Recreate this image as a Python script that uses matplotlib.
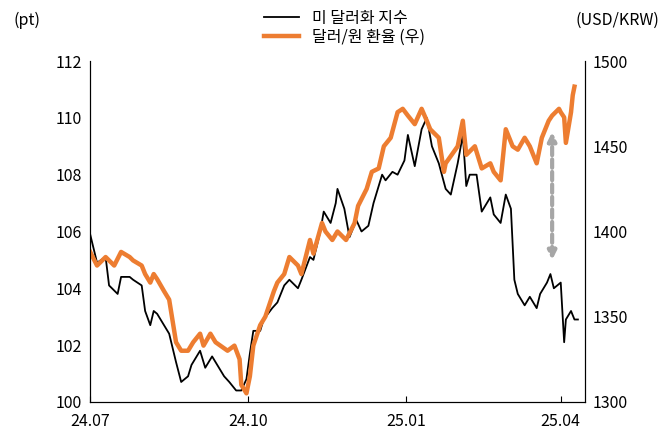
import matplotlib
matplotlib.use("Agg")
import matplotlib.pyplot as plt
import matplotlib.font_manager as fm
import pandas as pd

names = {f.name for f in fm.fontManager.ttflist}
fams = [n for n in ["Noto Sans CJK KR", "Noto Sans CJK JP", "Noto Sans CJK SC", "Noto Sans CJK TC"] if n in names]
plt.rcParams["font.family"] = fams + ["DejaVu Sans"]

dxy_dates = ["2024-07-01","2024-07-03","2024-07-05","2024-07-10","2024-07-12","2024-07-17","2024-07-19","2024-07-24","2024-07-26","2024-07-31",
 "2024-08-02","2024-08-05","2024-08-07","2024-08-09","2024-08-14","2024-08-16","2024-08-20","2024-08-23","2024-08-27","2024-08-29",
 "2024-09-03","2024-09-06","2024-09-10","2024-09-12","2024-09-17","2024-09-20","2024-09-24","2024-09-27","2024-09-30","2024-10-02",
 "2024-10-04","2024-10-08","2024-10-10","2024-10-15","2024-10-18","2024-10-22","2024-10-25","2024-10-30","2024-11-01","2024-11-06",
 "2024-11-08","2024-11-12","2024-11-14","2024-11-18","2024-11-21","2024-11-22","2024-11-26","2024-11-29","2024-12-03","2024-12-06",
 "2024-12-10","2024-12-13","2024-12-18","2024-12-20","2024-12-24","2024-12-27","2024-12-31","2025-01-02","2025-01-06","2025-01-10",
 "2025-01-13","2025-01-16","2025-01-20","2025-01-24","2025-01-27","2025-01-31","2025-02-03","2025-02-05","2025-02-07","2025-02-11",
 "2025-02-14","2025-02-19","2025-02-21","2025-02-25","2025-02-28","2025-03-03","2025-03-05","2025-03-07","2025-03-11","2025-03-14",
 "2025-03-18","2025-03-20","2025-03-24","2025-03-26","2025-03-28","2025-04-01","2025-04-03","2025-04-04","2025-04-07","2025-04-09","2025-04-11"]
dxy_values = [105.9,105.4,104.9,105.1,104.1,103.8,104.4,104.4,104.3,104.1,
 103.2,102.7,103.2,103.1,102.6,102.4,101.4,100.7,100.9,101.3,
 101.8,101.2,101.6,101.4,100.9,100.7,100.4,100.4,100.8,101.7,
 102.5,102.5,102.9,103.3,103.5,104.1,104.3,104.0,104.3,105.1,
 105.0,106.0,106.7,106.3,107.0,107.5,106.8,105.8,106.4,106.0,
 106.2,107.0,108.0,107.8,108.1,108.0,108.5,109.4,108.3,109.6,
 110.0,109.0,108.4,107.5,107.3,108.4,109.4,107.6,108.0,108.0,
 106.7,107.2,106.6,106.3,107.3,106.8,104.3,103.8,103.4,103.7,
 103.3,103.8,104.2,104.5,104.0,104.2,102.1,102.9,103.2,102.9,102.9]

krw_dates = ["2024-07-01","2024-07-05","2024-07-10","2024-07-15","2024-07-19","2024-07-24","2024-07-26","2024-07-31","2024-08-02","2024-08-05",
 "2024-08-07","2024-08-09","2024-08-13","2024-08-16","2024-08-20","2024-08-23","2024-08-27","2024-08-30","2024-09-03","2024-09-05",
 "2024-09-09","2024-09-12","2024-09-19","2024-09-23","2024-09-26","2024-09-27","2024-09-30","2024-10-02","2024-10-04","2024-10-08",
 "2024-10-11","2024-10-16","2024-10-18","2024-10-22","2024-10-25","2024-10-30","2024-11-01","2024-11-06","2024-11-08","2024-11-13",
 "2024-11-15","2024-11-19","2024-11-22","2024-11-27","2024-12-02","2024-12-04","2024-12-09","2024-12-12","2024-12-16","2024-12-19",
 "2024-12-23","2024-12-27","2024-12-30","2025-01-02","2025-01-06","2025-01-10","2025-01-13","2025-01-15","2025-01-17","2025-01-20",
 "2025-01-23","2025-01-24","2025-01-31","2025-02-03","2025-02-05","2025-02-10","2025-02-14","2025-02-19","2025-02-21","2025-02-25",
 "2025-02-28","2025-03-04","2025-03-07","2025-03-11","2025-03-14","2025-03-18","2025-03-21","2025-03-25","2025-03-27","2025-03-31",
 "2025-04-01","2025-04-03","2025-04-04","2025-04-07","2025-04-08","2025-04-09"]
krw_values = [1388,1380,1385,1380,1388,1385,1383,1380,1375,1370,
 1375,1372,1365,1360,1335,1330,1330,1335,1340,1333,
 1340,1335,1330,1333,1325,1310,1305,1315,1333,1345,
 1350,1365,1370,1375,1385,1380,1375,1395,1387,1405,
 1400,1395,1400,1395,1405,1415,1425,1435,1437,1450,
 1455,1470,1472,1468,1463,1472,1465,1460,1458,1455,
 1435,1440,1450,1465,1445,1450,1437,1440,1435,1430,
 1460,1450,1448,1455,1450,1440,1455,1465,1468,1472,
 1470,1467,1452,1470,1480,1485]

arrow_date = "2025-03-27"
arrow_top, arrow_bottom = 109.6, 104.9

fig = plt.figure(figsize=(6.63, 4.46), dpi=100)
ax = fig.add_axes([0.136, 0.099, 0.746, 0.764])
ax2 = ax.twinx()

l1, = ax.plot(pd.to_datetime(dxy_dates), dxy_values, color="black", lw=1.3, label="미 달러화 지수")
l2, = ax2.plot(pd.to_datetime(krw_dates), krw_values, color="#ED7D31", lw=3.2, label="달러/원 환율 (우)")

ad = pd.Timestamp(arrow_date)
ax.annotate("", xy=(ad, arrow_top), xytext=(ad, arrow_bottom),
            arrowprops=dict(arrowstyle="<|-|>", color="#A6A6A6", lw=3, linestyle=(0, (2, 1)),
                            mutation_scale=12))

ax.set_ylim(100, 112)
ax.set_yticks(range(100, 113, 2))
ax2.set_ylim(1300, 1500)
ax2.set_yticks(range(1300, 1501, 50))
ax.set_xlim(pd.Timestamp("2024-07-01"), pd.Timestamp("2025-04-15"))
ticks = pd.to_datetime(["2024-07-01", "2024-10-01", "2025-01-01", "2025-04-01"])
ax.set_xticks(ticks)
ax.set_xticklabels(["24.07", "24.10", "25.01", "25.04"])
for a in (ax, ax2):
    a.spines["top"].set_visible(False)
    a.tick_params(labelsize=11.5, length=0, pad=6)
ax.tick_params(axis="x", length=4, direction="in", pad=8)

fig.text(0.02, 0.955, "(pt)", fontsize=11.5, va="center")
fig.text(0.995, 0.955, "(USD/KRW)", fontsize=11.5, va="center", ha="right")
fig.legend(handles=[l1, l2], loc="upper center", bbox_to_anchor=(0.52, 1.01), frameon=False,
           fontsize=11.5, handlelength=2.2, labelspacing=0.1)
fig.savefig("out.png", dpi=100)
